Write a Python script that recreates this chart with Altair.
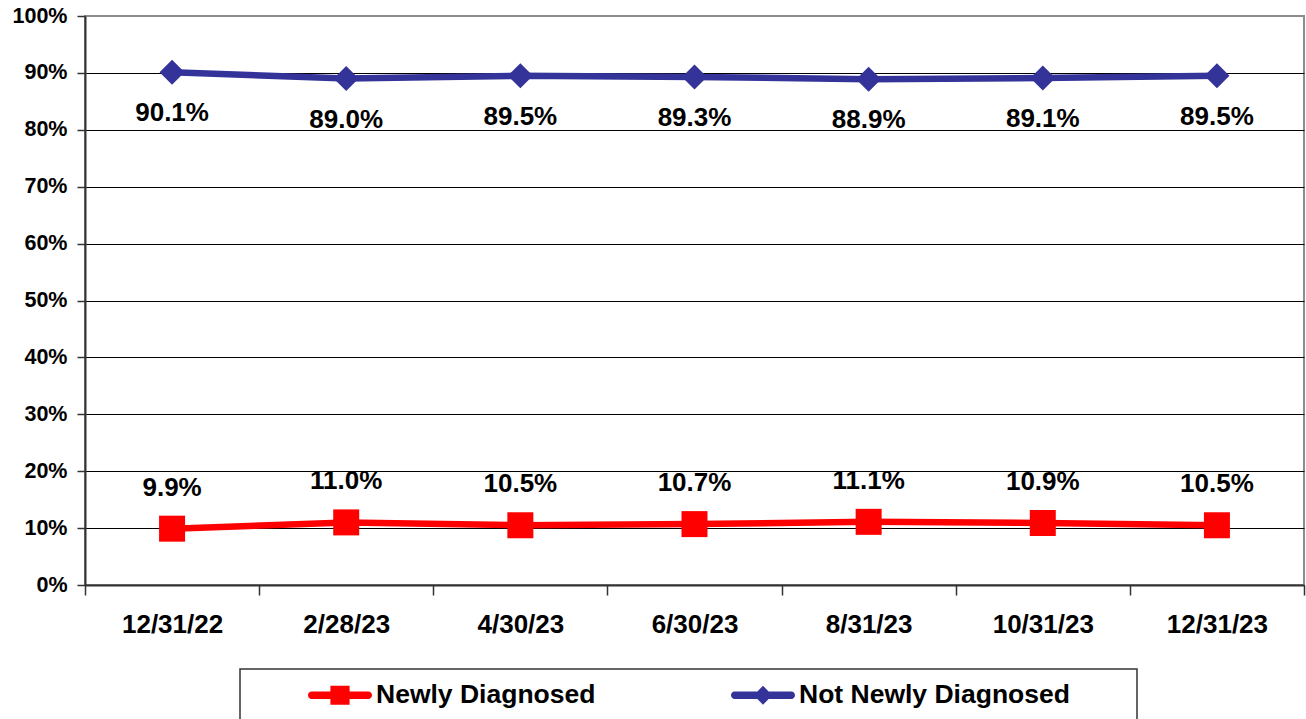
import altair as alt
import pandas as pd

# Reporting dates and share of cases per group (percent)
dates = ["12/31/22", "2/28/23", "4/30/23", "6/30/23", "8/31/23", "10/31/23", "12/31/23"]
newly_diagnosed = [9.9, 11.0, 10.5, 10.7, 11.1, 10.9, 10.5]
not_newly_diagnosed = [90.1, 89.0, 89.5, 89.3, 88.9, 89.1, 89.5]
series_names = ["Newly Diagnosed", "Not Newly Diagnosed"]
series_colors = ["#FF0000", "#333399"]
y_ticks = list(range(0, 101, 10))

rows = []
for d, v in zip(dates, newly_diagnosed):
    rows.append({"date": d, "series": series_names[0], "value": v})
for d, v in zip(dates, not_newly_diagnosed):
    rows.append({"date": d, "series": series_names[1], "value": v})
df = pd.DataFrame(rows)

FONT = "Liberation Sans"

# Legend glyphs: a bar with a square / diamond on it (unit coordinates)
BAR = ("M-0.885,-0.115H0.885A0.115,0.115 0 0 1 0.885,0.115"
       "H-0.885A0.115,0.115 0 0 1 -0.885,-0.115Z")
SQUARE_GLYPH = BAR + "M-0.3,-0.3H0.3V0.3H-0.3Z"
DIAMOND_GLYPH = BAR + "M0,-0.3L0.29,0L0,0.3L-0.29,0Z"

color_scale = alt.Scale(domain=series_names, range=series_colors)

legend = alt.Legend(
    orient="none",
    legendX=223,
    legendY=647,
    direction="horizontal",
    title=None,
    padding=0,
    symbolSize=4096,
    symbolOpacity=1,
    symbolStrokeWidth=0,
    labelFont=FONT,
    labelFontSize=26.5,
    labelFontWeight="bold",
    labelColor="black",
    labelOffset=4,
    labelLimit=400,
    columnPadding=135,
)

x_enc = alt.X(
    "date:N",
    sort=dates,
    scale=alt.Scale(paddingInner=0, paddingOuter=0),
    axis=alt.Axis(
        title=None,
        labelAngle=0,
        tickBand="extent",
        tickSize=10,
        tickColor="#333333",
        tickWidth=1.5,
        domainColor="#333333",
        domainWidth=2,
        labelFont=FONT,
        labelFontSize=26,
        labelFontWeight="bold",
        labelColor="black",
        labelPadding=16,
        grid=False,
    ),
)

y_enc = alt.Y(
    "value:Q",
    scale=alt.Scale(domain=[0, 100], nice=False),
    axis=alt.Axis(
        title=None,
        values=y_ticks,
        labelExpr="datum.value + '%'",
        labelFont=FONT,
        labelFontSize=21.5,
        labelFontWeight="bold",
        labelColor="black",
        labelPadding=10,
        tickSize=8,
        tickColor="#333333",
        tickWidth=1.5,
        domainColor="#333333",
        domainWidth=2,
        grid=True,
        gridColor={"condition": {"test": "datum.value === 100", "value": "#8c8c8c"}, "value": "#000000"},
        gridWidth=1,
    ),
)

base = alt.Chart(df)
newly = base.transform_filter(alt.datum.series == series_names[0])
not_newly = base.transform_filter(alt.datum.series == series_names[1])

series_color = alt.Color("series:N", scale=color_scale, legend=legend)

# Invisible layer that only supplies the legend (line-with-marker glyphs)
legend_layer = base.mark_point(filled=True, opacity=0, size=4096).encode(
    x=x_enc,
    y=y_enc,
    color=series_color,
    shape=alt.Shape(
        "series:N",
        scale=alt.Scale(domain=series_names, range=[SQUARE_GLYPH, DIAMOND_GLYPH]),
        legend=legend,
    ),
)

lines = base.mark_line(strokeWidth=6.5).encode(x=x_enc, y=y_enc, color=series_color)

squares = newly.mark_point(filled=True, opacity=1, shape="square", size=676).encode(
    x=x_enc, y=y_enc, color=series_color
)
diamonds = not_newly.mark_point(filled=True, opacity=1, shape="diamond", size=625).encode(
    x=x_enc, y=y_enc, color=series_color
)

label_style = dict(font=FONT, fontSize=26, fontWeight="bold", color="black", align="center", baseline="middle")
label_expr = "format(datum.value, '.1f') + '%'"

labels_newly = newly.transform_calculate(label=label_expr).mark_text(
    dy=-41, **label_style
).encode(x=x_enc, y=y_enc, text="label:N")

labels_not = not_newly.transform_calculate(label=label_expr).mark_text(
    dy=41, **label_style
).encode(x=x_enc, y=y_enc, text="label:N")

# Frame around the legend below the plot
legend_frame = alt.Chart(pd.DataFrame({"k": [0]})).mark_rect(
    fill="white", fillOpacity=0, stroke="#333333", strokeWidth=1.5
).encode(
    x=alt.value(155), x2=alt.value(1052), y=alt.value(653), y2=alt.value(740)
)

chart = alt.layer(
    legend_layer, legend_frame, lines, squares, diamonds, labels_newly, labels_not
).properties(
    width=1219,
    height=569,
    autosize=alt.AutoSizeParams(type="none"),
    padding={"left": 85, "top": 16, "right": 2, "bottom": 134},
    background="white",
).configure_view(
    stroke="#8c8c8c",
    strokeWidth=2,
)

chart.save("out.html", embed_options={"renderer": "svg", "actions": False})
